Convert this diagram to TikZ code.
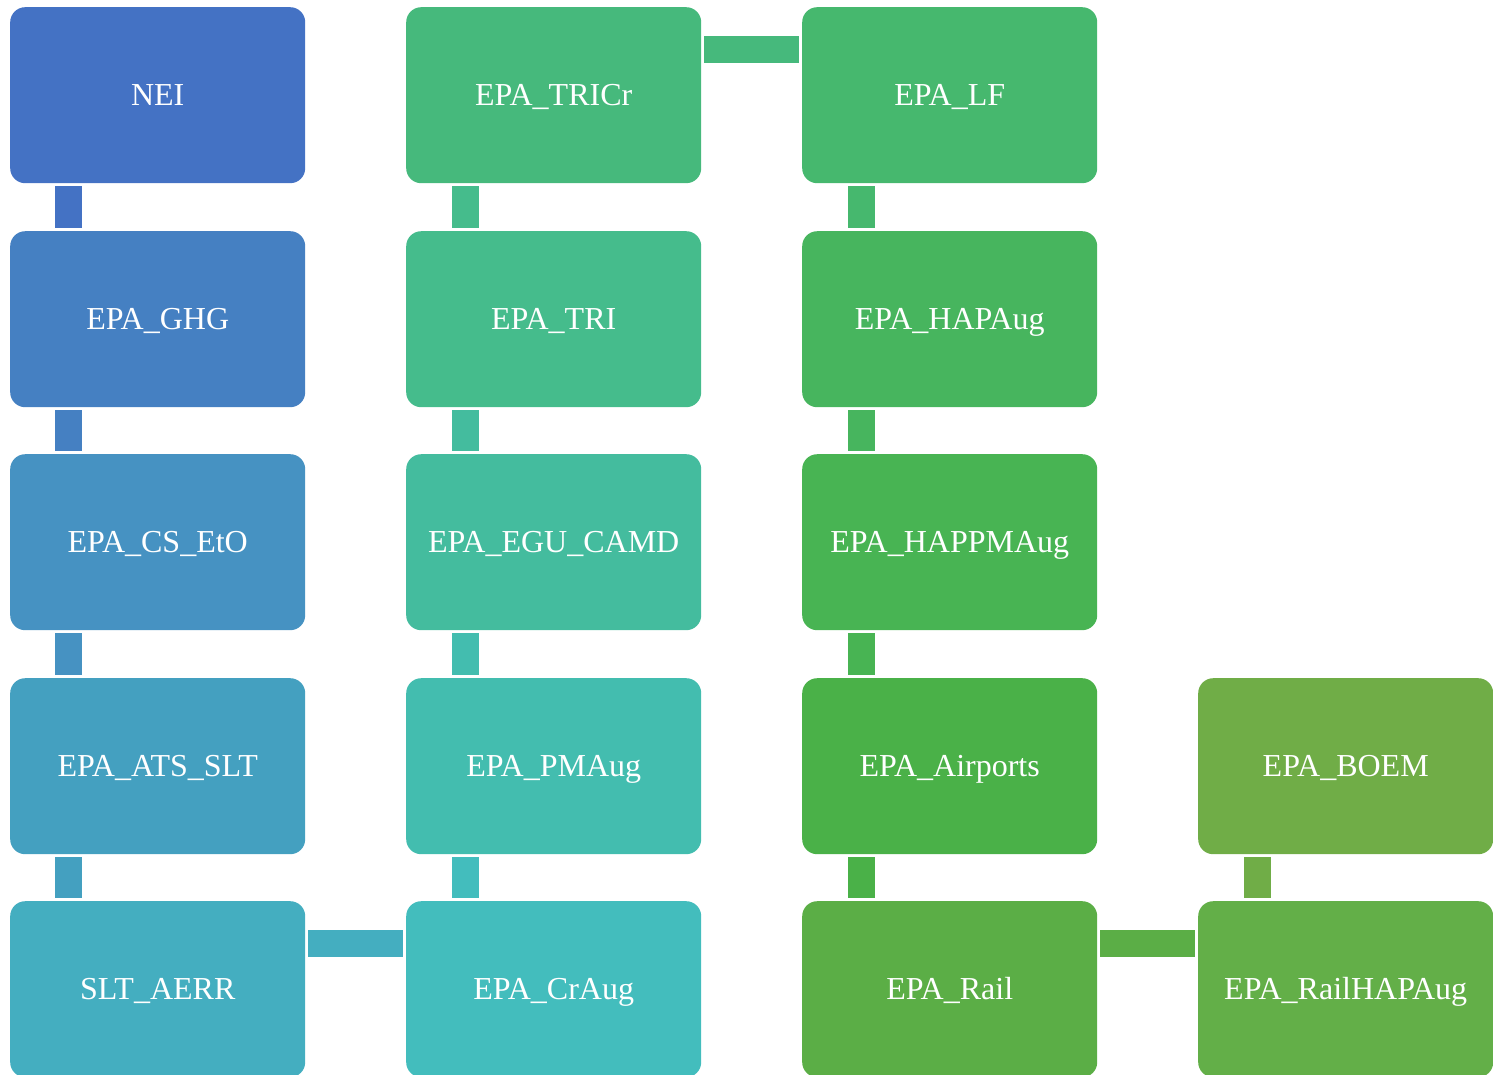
\documentclass[tikz,border=0pt]{standalone}
\usepackage{fontspec}
\setmainfont{Liberation Serif}
\definecolor{cA}{HTML}{4472C4}
\definecolor{cB}{HTML}{4580C2}
\definecolor{cC}{HTML}{4692C2}
\definecolor{cD}{HTML}{44A0C0}
\definecolor{cE}{HTML}{44AEC0}
\definecolor{cF}{HTML}{43BDBD}
\definecolor{cG}{HTML}{43BDAF}
\definecolor{cH}{HTML}{44BC9E}
\definecolor{cI}{HTML}{45BC8C}
\definecolor{cJ}{HTML}{46B97C}
\definecolor{cK}{HTML}{46B86E}
\definecolor{cL}{HTML}{47B55E}
\definecolor{cM}{HTML}{48B453}
\definecolor{cN}{HTML}{4AB148}
\definecolor{cO}{HTML}{5BAE46}
\definecolor{cP}{HTML}{63AF48}
\definecolor{cQ}{HTML}{70AD47}
\tikzset{
  box/.style={rounded corners=15pt, minimum width=295pt, minimum height=176pt,
    inner sep=0pt, anchor=north west, text=white, text height=21pt, text depth=0pt,
    font=\fontsize{32}{38}\selectfont},
}
\begin{document}
\begin{tikzpicture}[x=1pt,y=-1pt]
\useasboundingbox (0,0) rectangle (1493,1074);
\clip (0,0) rectangle (1493,1074);
% column 1
\node[box,fill=cA] (nei) at (10,7) {NEI};
\node[box,fill=cB] (ghg) at (10,231) {EPA\_GHG};
\node[box,fill=cC] (eto) at (10,454) {EPA\_CS\_EtO};
\node[box,fill=cD] (ats) at (10,678) {EPA\_ATS\_SLT};
\node[box,fill=cE] (aerr) at (10,901) {SLT\_AERR};
% column 2
\node[box,fill=cJ] (tricr) at (406,7) {EPA\_TRICr};
\node[box,fill=cI] (tri) at (406,231) {EPA\_TRI};
\node[box,fill=cH] (egu) at (406,454) {EPA\_EGU\_CAMD};
\node[box,fill=cG] (pm) at (406,678) {EPA\_PMAug};
\node[box,fill=cF] (cr) at (406,901) {EPA\_CrAug};
% column 3
\node[box,fill=cK] (lf) at (802,7) {EPA\_LF};
\node[box,fill=cL] (hap) at (802,231) {EPA\_HAPAug};
\node[box,fill=cM] (happm) at (802,454) {EPA\_HAPPMAug};
\node[box,fill=cN] (air) at (802,678) {EPA\_Airports};
\node[box,fill=cO] (rail) at (802,901) {EPA\_Rail};
% column 4
\node[box,fill=cQ] (boem) at (1198,678) {EPA\_BOEM};
\node[box,fill=cP] (railhap) at (1198,901) {EPA\_RailHAPAug};
% vertical connectors
\fill[cA] ([xshift=45pt,yshift=-3pt]nei.south west) rectangle ([xshift=72pt,yshift=3pt]ghg.north west);
\fill[cB] ([xshift=45pt,yshift=-3pt]ghg.south west) rectangle ([xshift=72pt,yshift=3pt]eto.north west);
\fill[cC] ([xshift=45pt,yshift=-3pt]eto.south west) rectangle ([xshift=72pt,yshift=3pt]ats.north west);
\fill[cD] ([xshift=45pt,yshift=-3pt]ats.south west) rectangle ([xshift=72pt,yshift=3pt]aerr.north west);
\fill[cI] ([xshift=46pt,yshift=-3pt]tricr.south west) rectangle ([xshift=73pt,yshift=3pt]tri.north west);
\fill[cH] ([xshift=46pt,yshift=-3pt]tri.south west) rectangle ([xshift=73pt,yshift=3pt]egu.north west);
\fill[cG] ([xshift=46pt,yshift=-3pt]egu.south west) rectangle ([xshift=73pt,yshift=3pt]pm.north west);
\fill[cF] ([xshift=46pt,yshift=-3pt]pm.south west) rectangle ([xshift=73pt,yshift=3pt]cr.north west);
\fill[cK] ([xshift=46pt,yshift=-3pt]lf.south west) rectangle ([xshift=73pt,yshift=3pt]hap.north west);
\fill[cL] ([xshift=46pt,yshift=-3pt]hap.south west) rectangle ([xshift=73pt,yshift=3pt]happm.north west);
\fill[cM] ([xshift=46pt,yshift=-3pt]happm.south west) rectangle ([xshift=73pt,yshift=3pt]air.north west);
\fill[cN] ([xshift=46pt,yshift=-3pt]air.south west) rectangle ([xshift=73pt,yshift=3pt]rail.north west);
\fill[cQ] ([xshift=46pt,yshift=-3pt]boem.south west) rectangle ([xshift=73pt,yshift=3pt]railhap.north west);
% horizontal connectors
\fill[cE] ([xshift=3pt,yshift=-29pt]aerr.north east) rectangle ([xshift=-3pt,yshift=-56pt]cr.north west);
\fill[cJ] ([xshift=3pt,yshift=-29pt]tricr.north east) rectangle ([xshift=-3pt,yshift=-56pt]lf.north west);
\fill[cO] ([xshift=3pt,yshift=-29pt]rail.north east) rectangle ([xshift=-3pt,yshift=-56pt]railhap.north west);
\end{tikzpicture}
\end{document}
